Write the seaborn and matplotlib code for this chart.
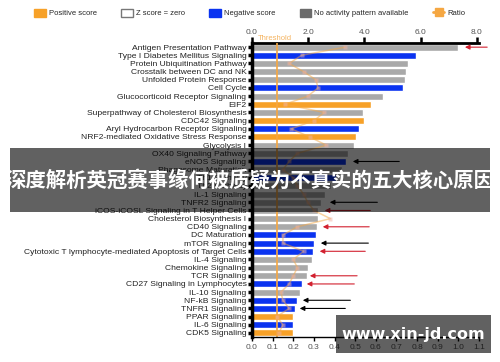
import numpy as np
import pandas as pd
import matplotlib
matplotlib.use("Agg")
import matplotlib.pyplot as plt
import matplotlib.transforms as mtransforms
from matplotlib.patches import Patch, Rectangle
from matplotlib.lines import Line2D
import seaborn as sns

pathways = [
    "Antigen Presentation Pathway",
    "Type I Diabetes Mellitus Signaling",
    "Protein Ubiquitination Pathway",
    "Crosstalk between DC and NK",
    "Unfolded Protein Response",
    "Cell Cycle",
    "Glucocorticoid Receptor Signaling",
    "EIF2",
    "Superpathway of Cholesterol Biosynthesis",
    "CDC42 Signaling",
    "Aryl Hydrocarbon Receptor Signaling",
    "NRF2-mediated Oxidative Stress Response",
    "Glycolysis I",
    "OX40 Signaling Pathway",
    "eNOS Signaling",
    "Phagosome Maturation",
    "Th1 Pathway",
    "Th2 Pathway",
    "IL-1 Signaling",
    "TNFR2 Signaling",
    "iCOS-iCOSL Signaling in T Helper Cells",
    "Cholesterol Biosynthesis I",
    "CD40 Signaling",
    "DC Maturation",
    "mTOR Signaling",
    "Cytotoxic T lymphocyte-mediated Apoptosis of Target Cells",
    "IL-4 Signaling",
    "Chemokine Signaling",
    "TCR Signaling",
    "CD27 Signaling in Lymphocytes",
    "IL-10 Signaling",
    "NF-kB Signaling",
    "TNFR1 Signaling",
    "PPAR Signaling",
    "IL-6 Signaling",
    "CDK5 Signaling",
]
neg_log_p = [7.33, 5.83, 5.55, 5.47, 5.45, 5.38, 4.67, 4.24, 3.96, 3.98,
             3.81, 3.70, 3.63, 3.40, 3.33, 3.20, 3.00, 2.80, 2.60, 2.44,
             2.35, 2.35, 2.30, 2.27, 2.20, 2.17, 2.12, 2.00, 1.95, 1.77,
             1.71, 1.60, 1.53, 1.46, 1.45, 1.46]
status = ["none", "neg", "none", "none", "none", "neg", "none", "pos", "none", "pos",
          "neg", "pos", "none", "none", "neg", "none", "neg", "none", "none", "none",
          "none", "none", "none", "neg", "neg", "neg", "none", "none", "none", "neg",
          "none", "neg", "neg", "pos", "neg", "pos"]
ratio = [0.45, 0.24, 0.18, 0.25, 0.31, 0.32, 0.27, 0.16, 0.35, 0.30,
         0.19, 0.28, 0.36, 0.22, 0.18, 0.15, 0.20, 0.22, 0.25, 0.27,
         0.30, 0.38, 0.22, 0.15, 0.15, 0.25, 0.20, 0.22, 0.20, 0.18,
         0.14, 0.15, 0.18, 0.12, 0.15, 0.13]
threshold = 0.9
top_ticks = [0.0, 2.0, 4.0, 6.0, 8.0]
bottom_ticks = [0.0, 0.1, 0.2, 0.3, 0.4, 0.5, 0.6, 0.7, 0.8, 0.9, 1.0, 1.1]
# arrows: row index, start and end in -log(p) units, colour key
arrow_rows = [0, 14, 19, 20, 22, 24, 25, 28, 29, 31, 32]
arrow_from = [8.47, 5.34, 4.56, 4.31, 4.27, 4.24, 4.13, 3.84, 3.74, 3.60, 3.42]
arrow_to = [7.48, 3.49, 2.67, 2.49, 2.42, 2.35, 2.31, 1.96, 1.85, 1.71, 1.60]
arrow_kind = ["red", "black", "black", "red", "red", "black", "red", "red", "red", "black", "black"]

legend_labels = ["Positive score", "Z score = zero", "Negative score",
                 "No activity pattern available", "Ratio"]

ORANGE = "#F7A128"
BLUE = "#0A33F0"
GRAY = "#A9A9A9"
DARKGRAY = "#6B6B6B"
RED = "#D2202F"
palette = {"pos": ORANGE, "neg": BLUE, "none": GRAY}

sns.set_theme(style="white")
plt.rcParams["font.family"] = ["Liberation Sans", "DejaVu Sans"]

df = pd.DataFrame({"pathway": pathways, "neglogp": neg_log_p, "status": status})
df2 = pd.DataFrame({"ratio": ratio, "pos": np.arange(len(pathways))})

fig = plt.figure(figsize=(5, 3.62), dpi=100)
ax = fig.add_axes([0.504, 0.069, 0.454, 0.812])

sns.barplot(data=df, x="neglogp", y="pathway", hue="status", palette=palette,
            dodge=False, width=0.86, saturation=1, legend=False, ax=ax)
ax.set_xlabel("")
ax.set_ylabel("")

ax2 = ax.twiny()
sns.lineplot(data=df2, x="ratio", y="pos", sort=False, estimator=None, orient="y",
             color="#F5A742", lw=1.1, alpha=0.5, marker="s", markersize=3.2,
             markerfacecolor="#F2B3A5", markeredgecolor="none", ax=ax2)

# primary (-log p) axis on top
ax.xaxis.tick_top()
ax.xaxis.set_label_position("top")
ax.set_xlim(0, 8.08)
ax.set_xticks(top_ticks)
ax.set_xticklabels([f"{t:.1f}" for t in top_ticks])
ax.tick_params(axis="x", which="major", direction="out", length=4, width=1.8,
               color="black", labelsize=6, labelcolor="#555555", pad=1,
               top=True, labeltop=True, bottom=False, labelbottom=False)
ax.tick_params(axis="y", length=3, width=2.5, color="black", labelsize=6.1,
               labelcolor="#222222", pad=1, left=True)
for s in ["right", "bottom"]:
    ax.spines[s].set_visible(False)
ax.spines["left"].set_linewidth(2.5)
ax.spines["left"].set_color("black")
ax.spines["top"].set_linewidth(2.0)
ax.spines["top"].set_color("black")

ax.axvline(threshold, color="#F5A742", lw=1.2, zorder=3)
trans = mtransforms.blended_transform_factory(ax.transData, ax.transAxes)
ax.text(0.2, 1.003, "Threshold", transform=trans, color="#F5B461", fontsize=5.5,
        va="bottom", ha="left")

for r, x0, x1, k in zip(arrow_rows, arrow_from, arrow_to, arrow_kind):
    c = RED if k == "red" else "black"
    ax.annotate("", xy=(x1, r), xytext=(x0, r),
                arrowprops=dict(arrowstyle="-|>", color=c, lw=0.8, mutation_scale=7),
                annotation_clip=False, zorder=6)

# ratio axis on bottom
ax2.xaxis.tick_bottom()
ax2.xaxis.set_label_position("bottom")
ax2.set_xlim(0, 1.1)
ax2.set_xticks(bottom_ticks)
ax2.set_xticklabels([f"{t:.1f}" for t in bottom_ticks])
ax2.tick_params(axis="x", direction="out", length=3, width=1, color="black",
                labelsize=6, labelcolor="#555555", pad=2,
                bottom=True, labelbottom=True, top=False, labeltop=False)
ax2.set_xlabel("")
ax2.set_ylabel("")
for s in ["top", "right", "left"]:
    ax2.spines[s].set_visible(False)
ax2.spines["bottom"].set_color("black")
ax2.spines["bottom"].set_linewidth(1.0)
ax.set_ylim(len(pathways) - 0.5, -0.5)

handles = [
    Patch(facecolor=ORANGE, edgecolor=ORANGE),
    Patch(facecolor="white", edgecolor="#777777", lw=1),
    Patch(facecolor=BLUE, edgecolor=BLUE),
    Patch(facecolor=DARKGRAY, edgecolor=DARKGRAY),
    Line2D([0], [0], color="#F5A742", lw=2, marker="s", markersize=6,
           markerfacecolor="#F5A742"),
]
fig.legend(handles, legend_labels, loc="center", bbox_to_anchor=(0.5, 1 - 13 / 362),
           ncol=5, frameon=False, fontsize=5.5, handlelength=1.5, handleheight=1.3,
           columnspacing=3.2, handletextpad=0.4)

# overlay band with caption
fig.patches.append(Rectangle((0.02, 0.414), 0.96, 0.177, transform=fig.transFigure,
                             facecolor="black", alpha=0.62, edgecolor="none", zorder=10))
fig.text(0.5, 0.503, "深度解析英冠赛事缘何被质疑为不真实的五大核心原因",
         family=["Noto Sans CJK SC", "DejaVu Sans"], fontweight="bold",
         fontsize=14.7, color="white", ha="center", va="center", zorder=11)
fig.patches.append(Rectangle((0.672, 0.025), 0.31, 0.105, transform=fig.transFigure,
                             facecolor="black", alpha=0.62, edgecolor="none", zorder=10))
fig.text(0.826, 0.077, "www.xin-jd.com", family=["DejaVu Sans"], fontweight="bold",
         fontsize=11.5, color="white", ha="center", va="center", zorder=11)

fig.savefig("out.png", dpi=100)
